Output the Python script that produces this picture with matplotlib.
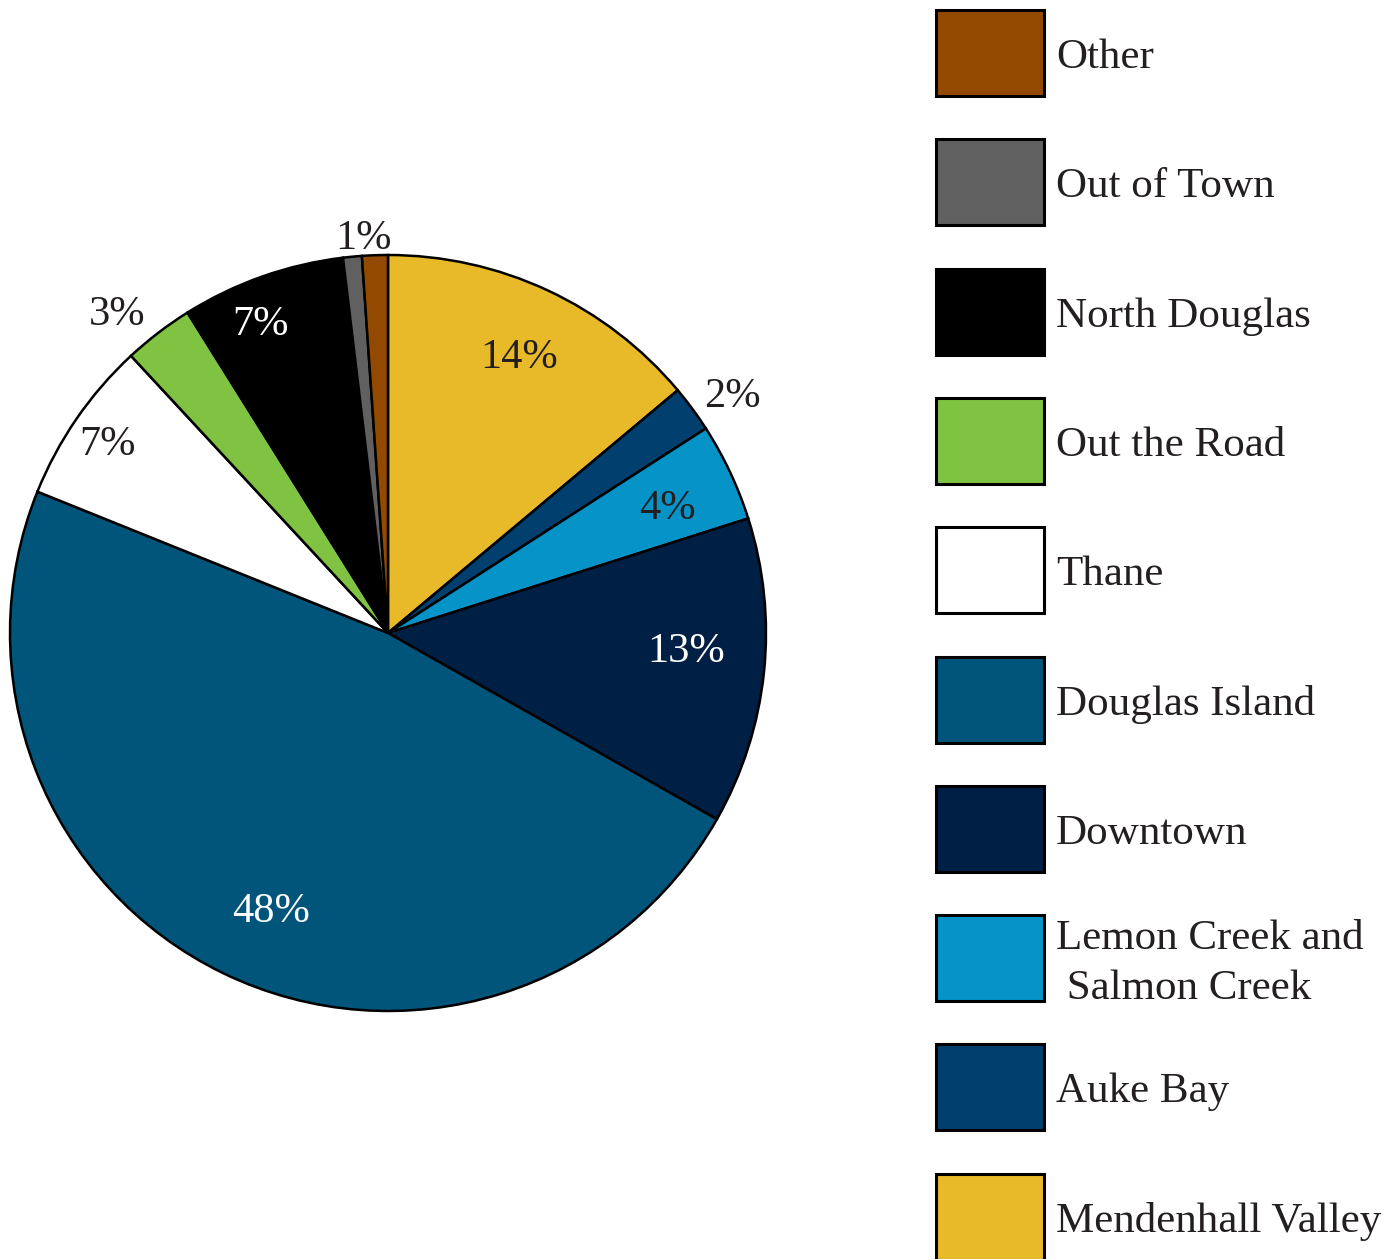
import numpy as np
import matplotlib
matplotlib.use("Agg")
import matplotlib.pyplot as plt
from matplotlib.patches import Rectangle

plt.rcParams['font.family'] = ['Liberation Serif', 'DejaVu Serif']

# Data (clockwise from 12 o'clock)
categories = ["Mendenhall Valley", "Auke Bay", "Lemon Creek and\n Salmon Creek", "Downtown",
              "Douglas Island", "Thane", "Out the Road", "North Douglas", "Out of Town", "Other"]
values = [13.9, 2.0, 4.2, 13.1, 47.9, 7.0, 3.0, 7.0, 0.8, 1.1]
pct_labels = ["14%", "2%", "4%", "13%", "48%", "7%", "3%", "7%", "", "1%"]
colors = ["#E8B928", "#013F6E", "#0693C8", "#001F45", "#02557A",
          "#FFFFFF", "#80C342", "#000000", "#606060", "#934A00"]
label_colors = ["#231F20", "#231F20", "#231F20", "#FFFFFF", "#FFFFFF",
                "#231F20", "#231F20", "#FFFFFF", "#231F20", "#231F20"]
label_radius = [0.806, 1.104, 0.81, 0.791, 0.80, 0.893, 1.105, 0.881, 1.05, 1.045]
label_shift = [0.5, 1.95, 1.3, -2.3, -2.9, -0.7, -3.0, -3.0, 0.0, -1.6]  # degrees clockwise

W, H = 1397, 1259
fig = plt.figure(figsize=(W / 100, H / 100), dpi=100)

cx, cy, R = 388, 633, 378
ax = fig.add_axes([(cx - R) / W, (H - cy - R) / H, 2 * R / W, 2 * R / H])
wedges, _ = ax.pie(values, colors=colors, startangle=90, counterclock=False,
                   radius=1.0, wedgeprops=dict(edgecolor="black", linewidth=1.8))
ax.set_xlim(-1, 1)
ax.set_ylim(-1, 1)
ax.set_aspect('equal')
ax.axis('off')
for i, w in enumerate(wedges):
    if not pct_labels[i]:
        continue
    th = np.deg2rad((w.theta1 + w.theta2) / 2 - label_shift[i])
    r = label_radius[i]
    ax.text(r * np.cos(th), r * np.sin(th), pct_labels[i], ha='center', va='center',
            fontsize=30.5, color=label_colors[i])

# Legend (reverse order, top to bottom)
lax = fig.add_axes([0, 0, 1, 1])
lax.set_xlim(0, W)
lax.set_ylim(H, 0)
lax.axis('off')
order = list(range(len(categories)))[::-1]
for k, i in enumerate(order):
    top = 10 + 129.3 * k
    lax.add_patch(Rectangle((936, top), 108, 86, facecolor=colors[i],
                            edgecolor="black", linewidth=2.2))
    if "\n" in categories[i]:
        lax.text(1056, top + 84, categories[i], ha='left', va='baseline', fontsize=31,
                 color="#231F20", linespacing=1.39)
    else:
        lax.text(1056, top + 58, categories[i], ha='left', va='baseline', fontsize=31,
                 color="#231F20")

fig.savefig("out.png", dpi=100)
